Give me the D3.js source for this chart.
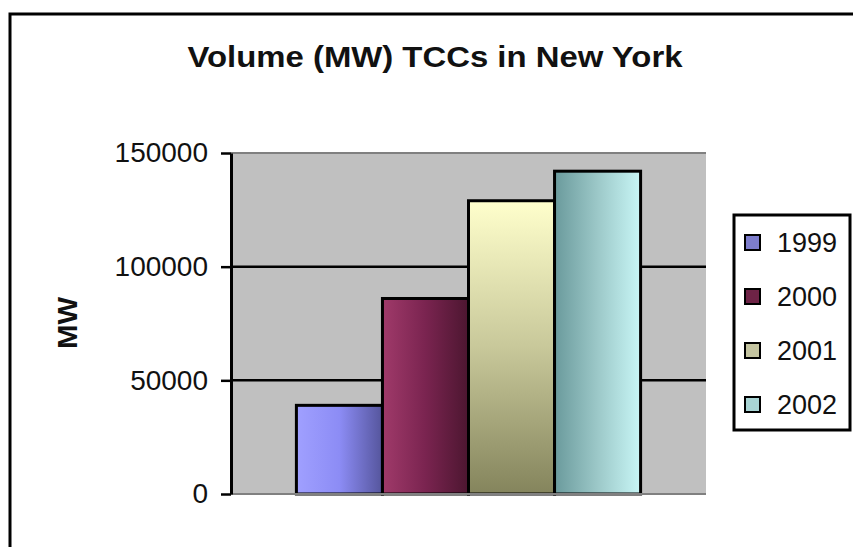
<!DOCTYPE html>
<html>
<head>
<meta charset="utf-8">
<script src="https://cdn.jsdelivr.net/npm/d3@7"></script>
<style>
  body { margin: 0; background: #fff; }
  svg text { font-family: "Liberation Sans", Arial, sans-serif; }
</style>
</head>
<body>
<div id="chart"></div>
<script>
// Chart data
const years = ["1999", "2000", "2001", "2002"];
const volumes = [39000, 86000, 129000, 142000];
const yTicks = [0, 50000, 100000, 150000];
const chartTitle = "Volume (MW) TCCs in New York";
const yLabel = "MW";

// Layout constants
const WIDTH = 853;
const HEIGHT = 547;
const PLOT = { left: 231, right: 706, top: 153, bottom: 494 };

const svg = d3.select("#chart").append("svg")
    .attr("width", WIDTH).attr("height", HEIGHT);

// Gradients for each bar
const defs = svg.append("defs");
const gradients = [
    { id: "g1999", x2: "100%", y2: "0%", stops: ["#a0a0ff", "#8c8cf5", "#55559c"] },
    { id: "g2000", x2: "100%", y2: "0%", stops: ["#a03a6a", "#7a2450", "#4c1630"] },
    { id: "g2001", x2: "0%", y2: "100%", stops: ["#ffffcc", "#c8c89a", "#84845c"] },
    { id: "g2002", x2: "100%", y2: "0%", stops: ["#6a9a9c", "#9cc8c8", "#c8f6f6"] }
];
gradients.forEach(g => {
    const lg = defs.append("linearGradient").attr("id", g.id)
        .attr("x1", "0%").attr("y1", "0%").attr("x2", g.x2).attr("y2", g.y2);
    g.stops.forEach((c, i) => {
        lg.append("stop").attr("offset", (i / (g.stops.length - 1) * 100) + "%").attr("stop-color", c);
    });
});
const swatchColors = ["#7d7dcc", "#6e2346", "#c4c4a0", "#a8d4d4"];

// Outer chart border (extends off right/bottom edges)
svg.append("rect")
    .attr("x", 10).attr("y", 14)
    .attr("width", WIDTH + 20).attr("height", HEIGHT + 20)
    .attr("fill", "#fff").attr("stroke", "#000").attr("stroke-width", 3);

// Title
svg.append("text")
    .attr("x", 435).attr("y", 67)
    .attr("text-anchor", "middle")
    .attr("font-size", 29).attr("font-weight", "bold").attr("fill", "#111")
    .attr("textLength", 495).attr("lengthAdjust", "spacingAndGlyphs")
    .text(chartTitle);

// Scales
const y = d3.scaleLinear().domain([0, 150000]).range([PLOT.bottom, PLOT.top]);
const xGroup = d3.scaleBand().domain(["New York"])
    .range([PLOT.left, PLOT.right]).paddingInner(0).paddingOuter(0.19);
const xSeries = d3.scaleBand().domain(years).range([0, xGroup.bandwidth()]);

// Plot area background
svg.append("rect")
    .attr("x", PLOT.left).attr("y", PLOT.top)
    .attr("width", PLOT.right - PLOT.left).attr("height", PLOT.bottom - PLOT.top)
    .attr("fill", "#c0c0c0");
svg.append("line")
    .attr("x1", PLOT.left).attr("x2", PLOT.right)
    .attr("y1", PLOT.top).attr("y2", PLOT.top)
    .attr("stroke", "#808080").attr("stroke-width", 2);

// Gridlines
svg.append("g").selectAll("line")
    .data(yTicks.filter(t => t > 0 && t < 150000))
    .join("line")
    .attr("x1", PLOT.left).attr("x2", PLOT.right)
    .attr("y1", d => y(d)).attr("y2", d => y(d))
    .attr("stroke", "#000").attr("stroke-width", 2.5);

// Bars
svg.append("g").selectAll("rect")
    .data(volumes)
    .join("rect")
    .attr("x", (d, i) => xGroup("New York") + xSeries(years[i]))
    .attr("y", d => y(d))
    .attr("width", xSeries.bandwidth())
    .attr("height", d => PLOT.bottom - y(d))
    .attr("fill", (d, i) => `url(#g${years[i]})`)
    .attr("stroke", "#000").attr("stroke-width", 3);

// Bottom axis line
svg.append("line")
    .attr("x1", PLOT.left).attr("x2", PLOT.right)
    .attr("y1", PLOT.bottom).attr("y2", PLOT.bottom)
    .attr("stroke", "#808080").attr("stroke-width", 2);

// Y axis
const yAxis = svg.append("g")
    .attr("transform", `translate(${PLOT.left},0)`)
    .call(d3.axisLeft(y).tickValues(yTicks).tickFormat(d3.format("d"))
        .tickSize(10).tickPadding(13).tickSizeOuter(0));
yAxis.select(".domain").attr("stroke", "#000").attr("stroke-width", 3);
yAxis.selectAll(".tick line").attr("stroke", "#000").attr("stroke-width", 2.5);
yAxis.selectAll(".tick text")
    .attr("font-family", "Liberation Sans, Arial, sans-serif")
    .attr("font-size", 28).attr("fill", "#111");

// Y axis label
svg.append("text")
    .attr("transform", "translate(77,323) rotate(-90)")
    .attr("text-anchor", "middle")
    .attr("font-size", 28).attr("font-weight", "bold").attr("fill", "#111")
    .attr("textLength", 52).attr("lengthAdjust", "spacingAndGlyphs")
    .text(yLabel);

// Legend
const legend = svg.append("g");
legend.append("rect")
    .attr("x", 734).attr("y", 215).attr("width", 116).attr("height", 215)
    .attr("fill", "#fff").attr("stroke", "#000").attr("stroke-width", 3);
const legendY = d3.scalePoint().domain(years).range([242, 404]);
const items = legend.selectAll("g.item").data(years).join("g")
    .attr("class", "item")
    .attr("transform", d => `translate(745,${legendY(d)})`);
items.append("rect")
    .attr("x", 0).attr("y", -7).attr("width", 15).attr("height", 15)
    .attr("fill", (d, i) => swatchColors[i])
    .attr("stroke", "#000").attr("stroke-width", 2);
items.append("text")
    .attr("x", 32).attr("y", 10)
    .attr("font-size", 27).attr("fill", "#111")
    .text(d => d);
</script>
</body>
</html>
